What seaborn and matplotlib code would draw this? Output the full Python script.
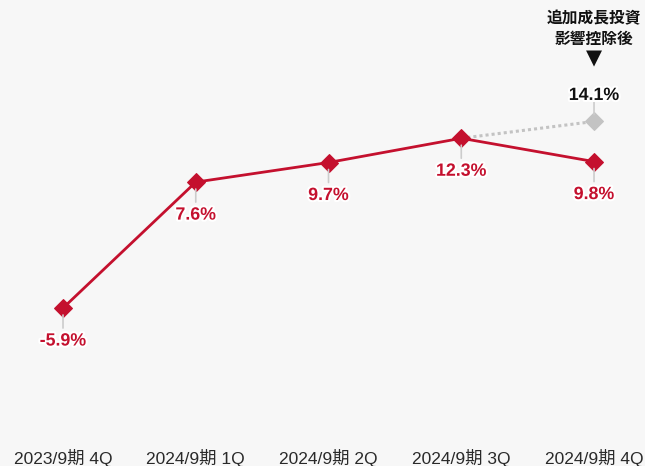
import matplotlib
matplotlib.use("Agg")
import matplotlib.pyplot as plt
import matplotlib.patheffects as pe
import seaborn as sns
import pandas as pd

categories = ["2023/9期 4Q", "2024/9期 1Q", "2024/9期 2Q", "2024/9期 3Q", "2024/9期 4Q"]
values = [-5.9, 7.6, 9.7, 12.3, 9.8]
value_labels = ["-5.9%", "7.6%", "9.7%", "12.3%", "9.8%"]
adj_categories = ["2024/9期 3Q", "2024/9期 4Q"]
adj_values = [12.3, 14.1]
adj_label = "14.1%"
note_text = "追加成長投資\n影響控除後"

RED = "#c4102e"
GRAY = "#c3c3c3"
BG = "#f7f7f7"

sns.set_style("white")
plt.rcParams["font.family"] = ["Liberation Sans", "Noto Sans CJK JP", "DejaVu Sans"]

fig = plt.figure(figsize=(6.45, 4.66), dpi=100, facecolor=BG)
ax = fig.add_axes([0, 0, 1, 1])
ax.set_facecolor(BG)

df = pd.DataFrame({"cat": categories, "val": values})
adj = pd.DataFrame({"cat": adj_categories, "val": adj_values})

sns.lineplot(data=df, x="cat", y="val", ax=ax, color=RED, linewidth=2,
             marker="D", markersize=9, markeredgecolor=RED, zorder=3, sort=False)
sns.lineplot(data=adj, x="cat", y="val", ax=ax, color=GRAY, linestyle=(0, (1, 1)),
             linewidth=2.2, marker="D", markersize=9, markevery=[1],
             markeredgecolor=GRAY, markerfacecolor=GRAY, zorder=2, sort=False)

ax.set_xlim(-0.4746, 4.384)
ax.set_ylim(-22.83, 27.12)
for s in ax.spines.values():
    s.set_visible(False)
ax.set_yticks([])
ax.set_xlabel("")
ax.set_ylabel("")
ax.set_xticks(range(len(categories)))
ax.set_xticklabels(categories, fontsize=12.5, color="#2a2a2a")
ax.tick_params(axis="x", length=0, pad=-12.5)

halo = [pe.withStroke(linewidth=3, foreground="white")]
for i, (v, lab) in enumerate(zip(values, value_labels)):
    ax.annotate("", xy=(i, v), xytext=(0, -20), textcoords="offset pixels",
                arrowprops=dict(arrowstyle="-", color="#cccccc", lw=1.2,
                                shrinkA=0, shrinkB=5))
    ax.annotate(lab, xy=(i, v), xytext=(0, -33), textcoords="offset pixels",
                ha="center", va="center", fontsize=12.8, fontweight="bold",
                color=RED, path_effects=halo, zorder=5)

ax.annotate("", xy=(4, adj_values[1]), xytext=(0, 20), textcoords="offset pixels",
            arrowprops=dict(arrowstyle="-", color="#cccccc", lw=1.2, shrinkA=0, shrinkB=5))
ax.annotate(adj_label, xy=(4, adj_values[1]), xytext=(0, 26), textcoords="offset pixels",
            ha="center", va="center", fontsize=12.8, fontweight="bold",
            color="#111111", path_effects=halo, zorder=5)
ax.annotate("▼", xy=(4, adj_values[1]), xytext=(0, 63), textcoords="offset pixels",
            ha="center", va="center", fontsize=15, color="#111111",
            family=["DejaVu Sans"])
ax.annotate(note_text, xy=(4, adj_values[1]), xytext=(0, 93), textcoords="offset pixels",
            ha="center", va="center", fontsize=11.3, fontweight="bold",
            color="#111111", linespacing=1.35,
            family=["Noto Sans CJK JP", "DejaVu Sans"])

fig.savefig("out.png", dpi=100, facecolor=BG)
